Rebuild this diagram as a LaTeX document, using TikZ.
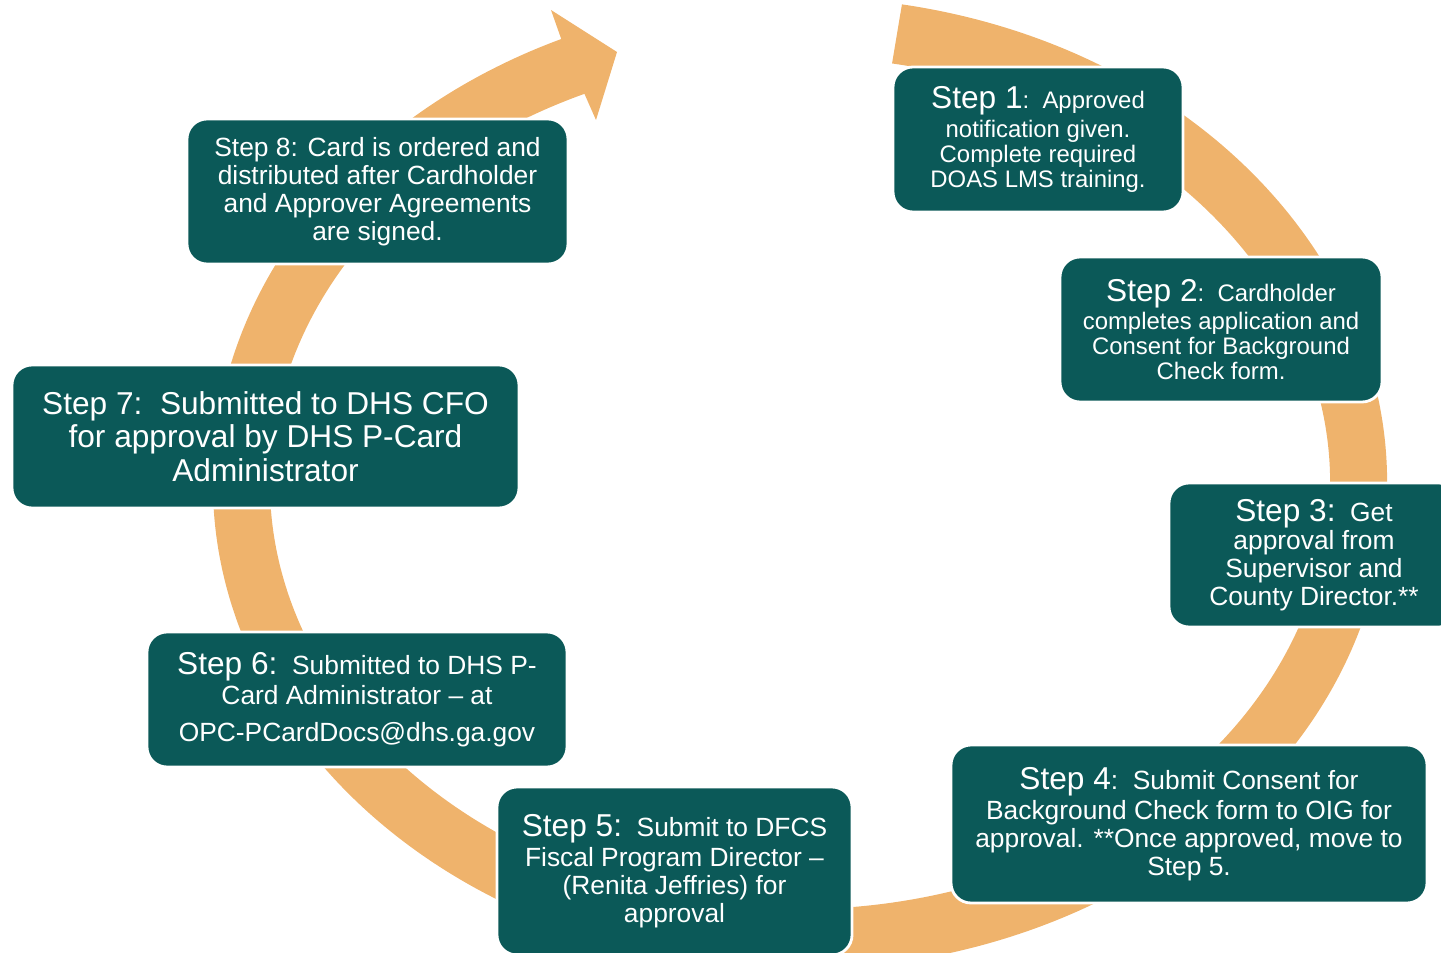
\documentclass[tikz,border=0pt]{standalone}
\usepackage{fontspec}
\setmainfont{Liberation Sans}
\usetikzlibrary{calc}

\definecolor{stepteal}{RGB}{11,89,88}
\definecolor{ringorange}{RGB}{239,179,108}

\tikzset{
    stepbox/.style={draw=white, line width=0.8pt, fill=stepteal, rounded corners=0.2cm,
        text=white, align=center, inner sep=0pt},
    smalltext/.style={font=\fontsize{6.8}{7.1}\selectfont},
    midtext/.style={font=\fontsize{7.5}{8}\selectfont},
    bigtext/.style={font=\fontsize{9}{9.5}\selectfont},
}
\newcommand{\stephead}[1]{{\fontsize{9}{8}\selectfont #1}}

\begin{document}
\begin{tikzpicture}
    \useasboundingbox (0,0) rectangle (14.41,9.52);

    % Ring arrow behind the steps
    \coordinate (ctr) at (8,4.69);
    \fill[ringorange] ($(ctr)+(80:5.87 and 4.86)$)
        arc[start angle=80, end angle=-246, x radius=5.87, y radius=4.86]
        -- (5.51,9.42) -- (6.17,9.00) -- (5.96,8.32)
        -- ($(ctr)+(114:5.30 and 4.26)$)
        arc[start angle=114, end angle=440, x radius=5.30, y radius=4.26]
        -- cycle;

    % Steps, clockwise from the top
    \node[stepbox, smalltext, minimum width=2.90cm, minimum height=1.45cm] (s1) at (10.38,8.125)
        {\stephead{Step 1}:\ \ Approved\\[1pt] notification given.\\ Complete required\\ DOAS LMS training.};
    \node[stepbox, smalltext, minimum width=3.22cm, minimum height=1.45cm] (s2) at (12.21,6.225)
        {\stephead{Step 2}:\ \ Cardholder\\[1pt] completes application and\\ Consent for Background\\ Check form.};
    \node[stepbox, midtext, minimum width=2.90cm, minimum height=1.44cm] (s3) at (13.14,3.97)
        {\stephead{Step 3:}\ \ Get\\ approval from\\ Supervisor and\\ County Director.**};
    \node[stepbox, midtext, minimum width=4.76cm, minimum height=1.58cm] (s4) at (11.89,1.28)
        {\stephead{Step 4}:\ \ Submit Consent for\\[0.5pt] Background Check form to OIG for\\ approval. **Once approved, move to\\ Step 5.};
    \node[stepbox, midtext, minimum width=3.55cm, minimum height=1.68cm] (s5) at (6.745,0.81)
        {\stephead{Step 5:}\ \ Submit to DFCS\\[0.5pt] Fiscal Program Director –\\ (Renita Jeffries) for\\ approval};
    \node[stepbox, midtext, minimum width=4.20cm, minimum height=1.35cm] (s6) at (3.57,2.525)
        {\stephead{Step 6:}\ \ Submitted to DHS P-\\[0.5pt] Card Administrator – at\\[2.5pt] OPC-PCardDocs@dhs.ga.gov};
    \node[stepbox, bigtext, minimum width=5.07cm, minimum height=1.43cm] (s7) at (2.655,5.155)
        {Step 7:\ \ Submitted to DHS CFO\\ for approval by DHS P-Card\\ Administrator};
    \node[stepbox, midtext, minimum width=3.81cm, minimum height=1.45cm] (s8) at (3.775,7.605)
        {Step 8: Card is ordered and\\ distributed after Cardholder\\ and Approver Agreements\\ are signed.};
\end{tikzpicture}
\end{document}
